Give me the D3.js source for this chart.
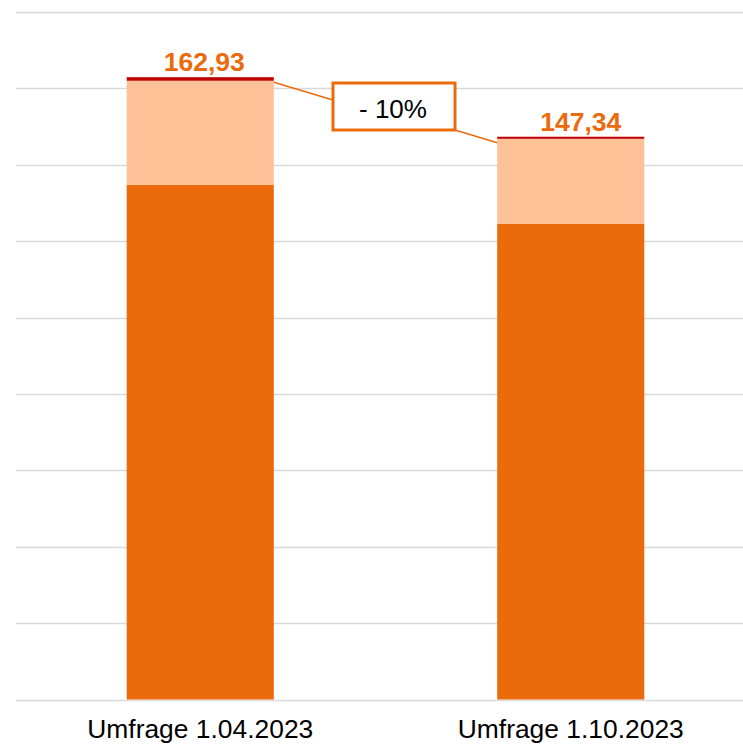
<!DOCTYPE html>
<html>
<head>
<meta charset="utf-8">
<script src="https://cdn.jsdelivr.net/npm/d3@7"></script>
<style>
  html, body { margin: 0; padding: 0; background: #fff; }
  svg { display: block; font-family: "Liberation Sans", Arial, sans-serif; }
</style>
</head>
<body>
<svg id="chart" width="743" height="746"></svg>
<script>
// Data
var categories = ['Umfrage 1.04.2023', 'Umfrage 1.10.2023'];
var baseValues = [134.7, 124.5];   // dark orange part
var upperValues = [27.3, 22.3];    // light orange part
var topValues = [0.93, 0.54];      // thin dark red cap
var totalLabels = ['162,93', '147,34'];
var changeLabel = '- 10%';
var yTicks = [0, 20, 40, 60, 80, 100, 120, 140, 160, 180];

var svg = d3.select('#chart');

var x = d3.scaleBand()
  .domain(categories)
  .range([15, 756])
  .paddingInner(0.603)
  .paddingOuter(0.3015);

var y = d3.scaleLinear()
  .domain([0, 180])
  .range([699.5, 12]);

// gridlines
svg.append('g')
  .selectAll('line')
  .data(yTicks)
  .enter().append('line')
  .attr('x1', 16)
  .attr('x2', 743)
  .attr('y1', function (d) { return Math.round(y(d)) + 0.5; })
  .attr('y2', function (d) { return Math.round(y(d)) + 0.5; })
  .attr('stroke', '#d9d9d9')
  .attr('stroke-width', 1.5);

// build stacked rows
var rows = categories.map(function (c, i) {
  return { cat: c, base: baseValues[i], upper: upperValues[i], top: topValues[i] };
});
var stack = d3.stack().keys(['base', 'upper', 'top']);
var colors = { base: '#eb6a0c', upper: '#fdc198', top: '#c00000' };

svg.append('g')
  .selectAll('g')
  .data(stack(rows))
  .enter().append('g')
  .attr('fill', function (s) { return colors[s.key]; })
  .selectAll('rect')
  .data(function (s) { return s; })
  .enter().append('rect')
  .attr('x', function (d) { return x(d.data.cat); })
  .attr('width', x.bandwidth())
  .attr('y', function (d) { return y(d[1]); })
  .attr('height', function (d) { return y(d[0]) - y(d[1]); });

function total(i) { return baseValues[i] + upperValues[i] + topValues[i]; }

// total labels (the second one sits a bit right of centre in the original)
svg.append('g')
  .selectAll('text')
  .data(categories)
  .enter().append('text')
  .attr('x', function (d, i) { return x(d) + x.bandwidth() / 2 + (i === 0 ? 4 : 10); })
  .attr('y', function (d, i) { return y(total(i)) - 6; })
  .attr('text-anchor', 'middle')
  .attr('font-size', 26.5)
  .attr('font-weight', 'bold')
  .attr('fill', '#eb6a0c')
  .text(function (d, i) { return totalLabels[i]; });

// category labels
svg.append('g')
  .selectAll('text')
  .data(categories)
  .enter().append('text')
  .attr('x', function (d) { return x(d) + x.bandwidth() / 2; })
  .attr('y', 738)
  .attr('text-anchor', 'middle')
  .attr('font-size', 25)
  .attr('textLength', 226)
  .attr('lengthAdjust', 'spacingAndGlyphs')
  .attr('fill', '#000')
  .text(function (d) { return d; });

// change annotation
var box = { x: 333, y: 83, w: 122, h: 47 };
var x1 = x(categories[0]) + x.bandwidth();
var x2 = x(categories[1]);

svg.append('line')
  .attr('x1', x1).attr('y1', y(total(0)) + 5)
  .attr('x2', box.x).attr('y2', box.y + 17)
  .attr('stroke', '#eb6a0c').attr('stroke-width', 1.5);
svg.append('line')
  .attr('x1', box.x + box.w).attr('y1', box.y + box.h)
  .attr('x2', x2).attr('y2', y(total(1)) + 6)
  .attr('stroke', '#eb6a0c').attr('stroke-width', 1.5);

svg.append('rect')
  .attr('x', box.x).attr('y', box.y)
  .attr('width', box.w).attr('height', box.h)
  .attr('fill', '#fff')
  .attr('stroke', '#eb6a0c')
  .attr('stroke-width', 3);

svg.append('text')
  .attr('x', box.x + box.w / 2 - 1)
  .attr('y', box.y + 35)
  .attr('text-anchor', 'middle')
  .attr('font-size', 26)
  .attr('fill', '#000')
  .text(changeLabel);
</script>
</body>
</html>
